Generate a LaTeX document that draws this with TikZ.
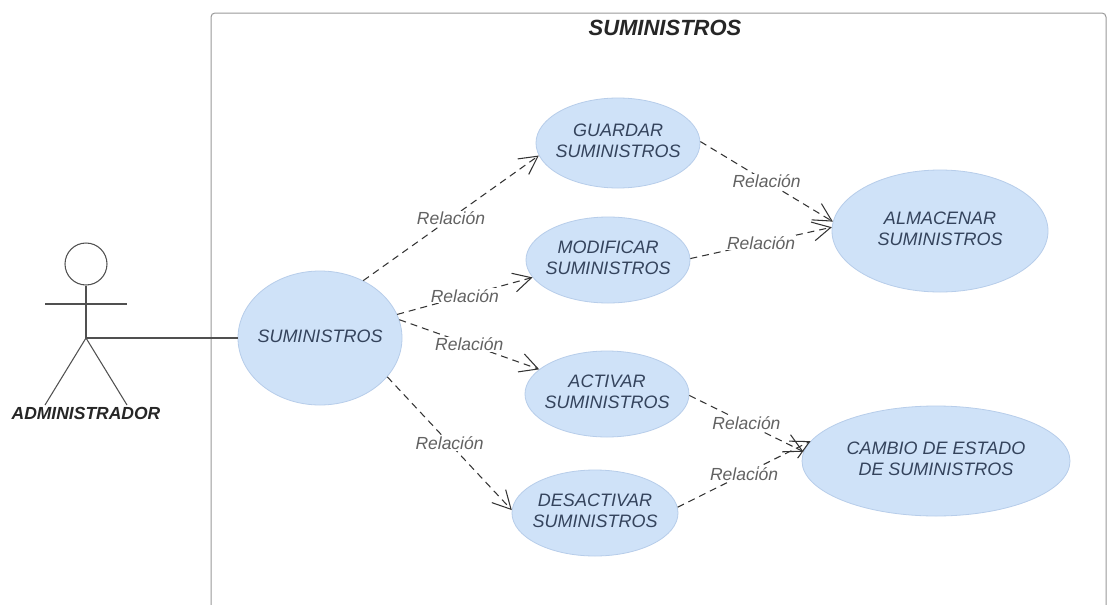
\documentclass[tikz,border=0pt]{standalone}
\usepackage{fontspec}
\setmainfont{Liberation Sans}
\usetikzlibrary{arrows.meta,shapes.geometric}
\definecolor{ucfill}{HTML}{CFE2F8}
\definecolor{ucdraw}{HTML}{B7CDEA}
\definecolor{uctext}{HTML}{34435C}
\definecolor{reltext}{HTML}{626262}
\definecolor{lineclr}{HTML}{333333}
\definecolor{actorclr}{HTML}{505050}
\definecolor{boundclr}{HTML}{999999}
\newcommand{\uclabel}[1]{\makebox[0pt]{\begin{tabular}{@{}c@{}}#1\end{tabular}}}
\begin{document}
\begin{tikzpicture}[x=1pt,y=-1pt,
  usecase/.style={ellipse, draw=ucdraw, fill=ucfill, line width=0.8pt, inner sep=0pt,
    text=uctext, font=\fontsize{18}{21}\selectfont\itshape},
  rel/.style={draw=lineclr, line width=1.05pt, dash pattern=on 7pt off 5pt,
    -{Straight Barb[length=18pt,width=19pt]}},
  rellabel/.style={fill=white, inner sep=1pt, text=reltext,
    font=\fontsize{17.5}{20}\selectfont\itshape},
  actorline/.style={draw=actorclr, line width=1.05pt}
]
\useasboundingbox (0,0) rectangle (1111,605);
\fill[white] (0,0) rectangle (1111,605);

% system boundary
\draw[boundclr, line width=1pt, rounded corners=4pt] (211,640) -- (211,13) -- (1106,13) -- (1106,640);
\node[font=\fontsize{22}{26}\selectfont\bfseries\itshape, text=black!85] (title) at (665,28) {SUMINISTROS};

% actor
\node[circle, draw=actorclr, line width=1.05pt, minimum size=42pt, inner sep=0pt] (head) at (86,264) {};
\coordinate (hip) at (86,338);
\coordinate (larm) at (45,304);
\coordinate (rarm) at (127,304);
\coordinate (lleg) at (45,405);
\coordinate (rleg) at (127,405);
\draw[actorline] (head.south) -- (hip);
\draw[actorline] (larm) -- (rarm);
\draw[actorline] (lleg) -- (hip) -- (rleg);
\node[font=\fontsize{17.5}{20}\selectfont\bfseries\itshape, text=black!85] (admin) at (86,413) {ADMINISTRADOR};

% use cases
\node[usecase, minimum width=164pt, minimum height=134pt] (sum) at (320,338) {\uclabel{SUMINISTROS}};
\node[usecase, minimum width=164pt, minimum height=90pt] (guard) at (618,143) {\uclabel{GUARDAR\\SUMINISTROS}};
\node[usecase, minimum width=164pt, minimum height=86pt] (modif) at (608,260) {\uclabel{MODIFICAR\\SUMINISTROS}};
\node[usecase, minimum width=164pt, minimum height=86pt] (activ) at (607,394) {\uclabel{ACTIVAR\\SUMINISTROS}};
\node[usecase, minimum width=166pt, minimum height=86pt] (desac) at (595,513) {\uclabel{DESACTIVAR\\SUMINISTROS}};
\node[usecase, minimum width=216pt, minimum height=122pt] (almac) at (940,231) {\uclabel{ALMACENAR\\SUMINISTROS}};
\node[usecase, minimum width=268pt, minimum height=110pt] (cambio) at (936,461) {\uclabel{CAMBIO DE ESTADO\\DE SUMINISTROS}};

% association
\draw[actorline] (hip) -- (sum.west);

% relations
\draw[rel] (sum.53) -- node[rellabel] (r1) {Relación} (guard.189);
\draw[rel] (sum.17) -- node[rellabel] (r2) {Relación} (modif.193);
\draw[rel] (sum.13) -- node[rellabel] (r3) {Relación} (activ.160);
\draw[rel] (sum.330) -- node[rellabel] (r4) {Relación} (desac.178);
\draw[rel] (guard.1) -- node[rellabel] (r5) {Relación} (almac.175);
\draw[rel] (modif.1) -- node[rellabel] (r6) {Relación} (almac.178);
\draw[rel] (activ.359) -- node[rellabel] (r7) {Relación} (cambio.176);
\draw[rel] (desac.4) -- node[rellabel] (r8) {Relación} (cambio.171);
\end{tikzpicture}
\end{document}
